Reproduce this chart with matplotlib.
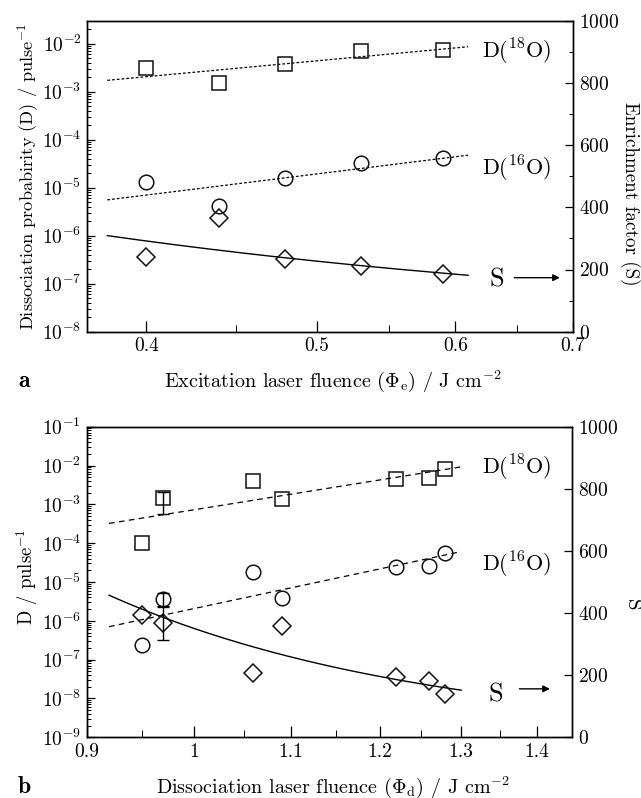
import numpy as np
import matplotlib
matplotlib.use("Agg")
import matplotlib.pyplot as plt
from matplotlib.ticker import FixedLocator, FixedFormatter, NullFormatter, LogLocator, MultipleLocator

plt.rcParams['font.family'] = ['cmr10', 'DejaVu Serif']
plt.rcParams['mathtext.fontset'] = 'cm'
plt.rcParams['axes.formatter.use_mathtext'] = True
plt.rcParams['axes.unicode_minus'] = False

# ---------------- data: panel a ----------------
phi_e = [0.40, 0.44, 0.48, 0.53, 0.59]
D18_a = [3.1e-3, 1.5e-3, 3.7e-3, 7.1e-3, 7.4e-3]
D16_a = [1.32e-5, 4.2e-6, 1.62e-5, 3.3e-5, 4.2e-5]
S_a = [239, 367, 233, 210, 185]
fit_range_a = [0.38, 0.61]
xticks_a = [0.4, 0.5, 0.6, 0.7]
xticklabels_a = ['0.4', '0.5', '0.6', '0.7']
xminor_a = [0.45, 0.55, 0.65]

# ---------------- data: panel b ----------------
phi_d = [0.95, 0.97, 1.06, 1.09, 1.22, 1.26, 1.28]
D18_b = [1.0e-4, 1.43e-3, 4.0e-3, 1.35e-3, 4.6e-3, 4.8e-3, 8.0e-3]
D16_b = [2.4e-7, 3.7e-6, 1.8e-5, 3.8e-6, 2.47e-5, 2.6e-5, 5.7e-5]
S_b = [394, 367, 208, 358, 195, 182, 139]
err_x_b = [0.97]
err_D18_b = [1.43e-3]
err_D18_lo = [5.7e-4]
err_D18_hi = [2.1e-3]
err_D16_b = [3.7e-6]
err_D16_lo = [2.3e-6]
err_D16_hi = [5.2e-6]
err_S_b = [367]
err_S_pm = [55]
fit_range_b = [0.92, 1.30]
xticks_b = [0.9, 1.0, 1.1, 1.2, 1.3, 1.4]
xticklabels_b = ['0.9', '1', '1.1', '1.2', '1.3', '1.4']
xminor_b = [0.95, 1.05, 1.15, 1.25, 1.35]

W, H = 641, 798
fig = plt.figure(figsize=(W / 100, H / 100), dpi=100)

def px_axes(l, t, r, b):
    return fig.add_axes([l / W, 1 - b / H, (r - l) / W, (b - t) / H])

def loglog_fit(x, y):
    return np.polyfit(np.log10(x), np.log10(y), 1)

TS = 14

def panel(ax, x, D18, D16, S, frange, ls, xlim, ylim, xt, xtl, xmn, s_minor):
    ax2 = ax.twinx()
    ax.set_xscale('log')
    ax.set_yscale('log')
    ax.set_xlim(*xlim)
    ax.set_ylim(*ylim)
    ax2.set_ylim(0, 1000)

    p18 = loglog_fit(x, D18)
    p16 = loglog_fit(x, D16)
    xf = np.geomspace(frange[0], frange[1], 200)
    f18 = 10 ** np.polyval(p18, np.log10(xf))
    f16 = 10 ** np.polyval(p16, np.log10(xf))
    ax.plot(xf, f18, color='black', lw=0.9, ls=ls)
    ax.plot(xf, f16, color='black', lw=0.9, ls=ls)
    ax2.plot(xf, f18 / f16, color='black', lw=1.0, ls='-')

    mk = dict(ls='none', mfc='none', mec='#111111', mew=1.1)
    ax.plot(x, D18, marker='s', ms=9.5, **mk)
    ax.plot(x, D16, marker='o', ms=10.5, **mk)
    ax2.plot(x, S, marker='D', ms=9.5, **mk)

    ax.xaxis.set_major_locator(FixedLocator(xt))
    ax.xaxis.set_major_formatter(FixedFormatter(xtl))
    ax.xaxis.set_minor_locator(FixedLocator(xmn))
    ax.xaxis.set_minor_formatter(NullFormatter())
    ax.yaxis.set_major_locator(LogLocator(base=10, numticks=20))
    ax.yaxis.set_minor_locator(LogLocator(base=10, subs=np.arange(2, 10), numticks=20))
    ax.yaxis.set_minor_formatter(NullFormatter())
    ax2.yaxis.set_major_locator(MultipleLocator(200))
    if s_minor:
        ax2.yaxis.set_minor_locator(MultipleLocator(100))
    for a in (ax, ax2):
        a.tick_params(which='both', direction='in', labelsize=TS, pad=4)
        a.tick_params(which='major', length=6, width=0.9)
        a.tick_params(which='minor', length=3, width=0.7)
        for sp in a.spines.values():
            sp.set_linewidth(1.0)
    ax.tick_params(axis='x', which='major', length=8)
    ax.tick_params(axis='x', which='minor', length=5)
    return ax2

# ---------------- panel a ----------------
axa = px_axes(87, 20.7, 573, 331.7)
axa2 = panel(axa, phi_e, D18_a, D16_a, S_a, fit_range_a, (0, (2.2, 1.6)),
             (0.37, 0.70), (1e-8, 3e-2), xticks_a, xticklabels_a, xminor_a, True)

# ---------------- panel b ----------------
axb = px_axes(86.7, 426.7, 572.3, 737.3)
axb2 = panel(axb, phi_d, D18_b, D16_b, S_b, fit_range_b, (0, (4.5, 3.5)),
             (0.9, 1.45), (1e-9, 1e-1), xticks_b, xticklabels_b, xminor_b, False)

axb.errorbar(err_x_b, err_D18_b,
             yerr=[np.subtract(err_D18_b, err_D18_lo), np.subtract(err_D18_hi, err_D18_b)],
             fmt='none', ecolor='black', elinewidth=1, capsize=4)
axb.errorbar(err_x_b, err_D16_b,
             yerr=[np.subtract(err_D16_b, err_D16_lo), np.subtract(err_D16_hi, err_D16_b)],
             fmt='none', ecolor='black', elinewidth=1, capsize=4)
axb2.errorbar(err_x_b, err_S_b, yerr=err_S_pm,
              fmt='none', ecolor='black', elinewidth=1, capsize=4)

# ---------------- annotations ----------------
LS = 16
for ax, y18, y16, ys, yarr, xs, xa0, xa1 in (
        (axa, 0.899, 0.523, 0.169, 0.1737, 0.844, 0.879, 0.973),
        (axb, 0.867, 0.555, 0.138, 0.156, 0.842, 0.891, 0.954)):
    ax.text(0.885, y18, r'D($^{18}$O)', transform=ax.transAxes, ha='center', va='center', fontsize=LS)
    ax.text(0.885, y16, r'D($^{16}$O)', transform=ax.transAxes, ha='center', va='center', fontsize=LS)
    ax.text(xs, ys, 'S', transform=ax.transAxes, ha='center', va='center', fontsize=19)
    ax.annotate('', xy=(xa1, yarr), xytext=(xa0, yarr), xycoords='axes fraction',
                arrowprops=dict(arrowstyle='-|>', color='black', lw=1.0, mutation_scale=10,
                                shrinkA=0, shrinkB=0))

fig.text(333 / W, 1 - 387 / H, r'Excitation laser fluence ($\Phi_{\rm e}$) / J cm$^{-2}$',
         ha='center', va='baseline', fontsize=14.5)
fig.text(333 / W, 1 - 793 / H, r'Dissociation laser fluence ($\Phi_{\rm d}$) / J cm$^{-2}$',
         ha='center', va='baseline', fontsize=14.5)
fig.text(28 / W, 1 - 176 / H, r'Dissociation probabirity (D) / pulse$^{-1}$',
         rotation=90, ha='center', va='center', fontsize=13.2)
fig.text(630 / W, 1 - 194 / H, 'Enrichment factor (S)',
         rotation=270, ha='center', va='center', fontsize=13.7)
fig.text(27 / W, 1 - 577 / H, r'D / pulse$^{-1}$',
         rotation=90, ha='center', va='center', fontsize=13.5)
fig.text(632 / W, 1 - 605 / H, 'S',
         rotation=270, ha='center', va='center', fontsize=15)
fig.text(18 / W, 1 - 387 / H, 'a', family='cmb10', ha='left', va='baseline', fontsize=17)
fig.text(18 / W, 1 - 793 / H, 'b', family='cmb10', ha='left', va='baseline', fontsize=17)

fig.savefig('out.png', dpi=100)
